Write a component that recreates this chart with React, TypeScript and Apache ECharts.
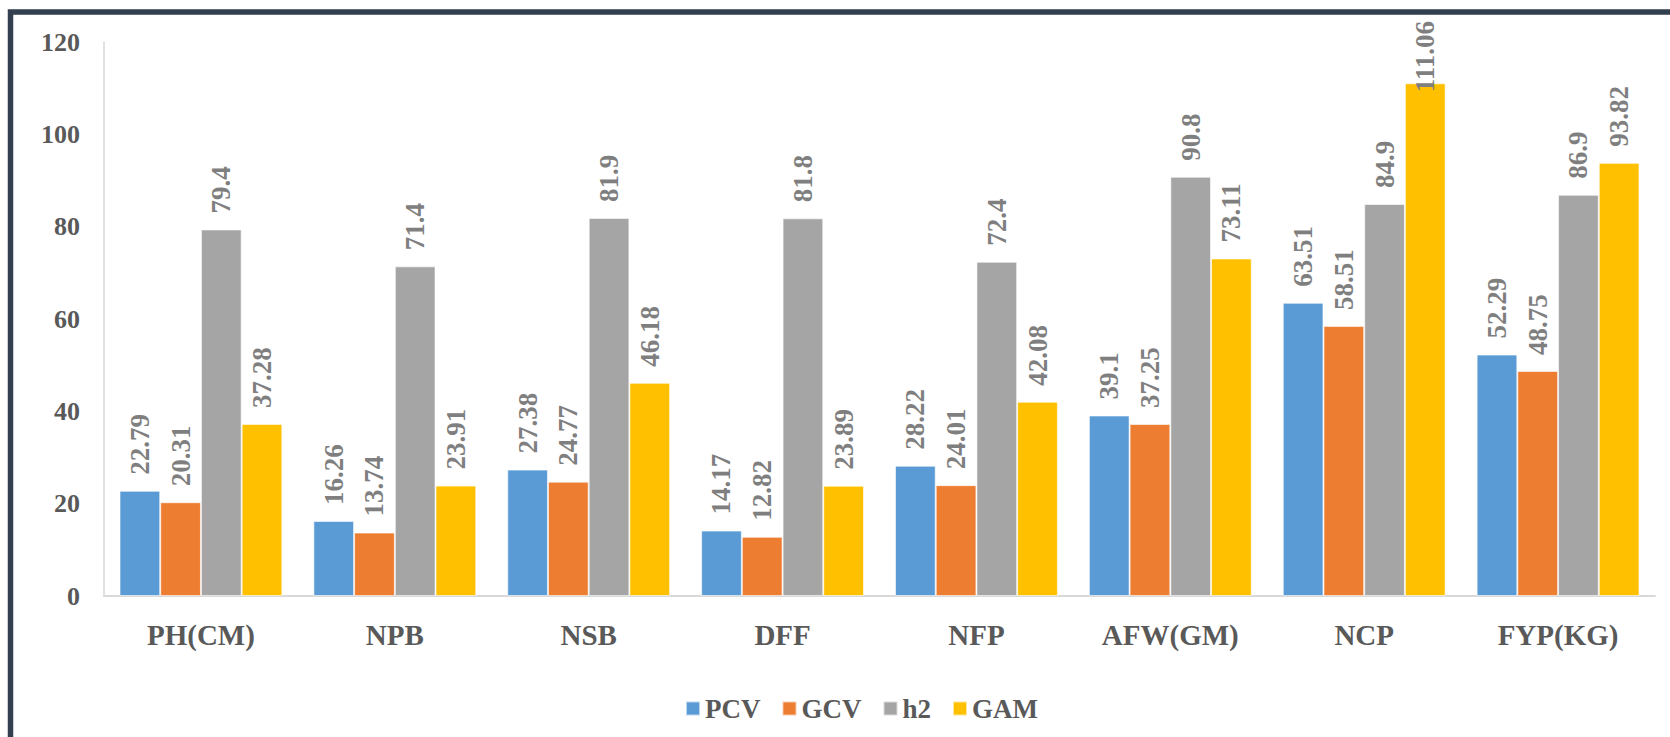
import React, { useEffect, useRef } from "react";
import * as echarts from "echarts";

const categories = ["PH(CM)", "NPB", "NSB", "DFF", "NFP", "AFW(GM)", "NCP", "FYP(KG)"];
const seriesNames = ["PCV", "GCV", "h2", "GAM"];
const pcv = [22.79, 16.26, 27.38, 14.17, 28.22, 39.1, 63.51, 52.29];
const gcv = [20.31, 13.74, 24.77, 12.82, 24.01, 37.25, 58.51, 48.75];
const h2 = [79.4, 71.4, 81.9, 81.8, 72.4, 90.8, 84.9, 86.9];
const gam = [37.28, 23.91, 46.18, 23.89, 42.08, 73.11, 111.06, 93.82];
const colors = ["#5b9bd5", "#ed7d31", "#a5a5a5", "#ffc000"];

const FONT = "'Liberation Serif', 'Times New Roman', serif";
const Y_MAX = 120;

export default function App() {
  const ref = useRef<HTMLDivElement>(null);
  useEffect(() => {
    if (!ref.current) return;
    const chart = echarts.init(ref.current, undefined, { renderer: "svg" });
    const allData = [pcv, gcv, h2, gam];
    const series = allData.map((arr, i) => ({
      name: seriesNames[i],
      type: "bar",
      barGap: "0%",
      barCategoryGap: "16%",
      itemStyle: { color: colors[i], borderColor: "rgba(255,255,255,0.6)", borderWidth: 1 },
      data: arr.map((v) => ({
        value: v,
        label: v > Y_MAX - 12 ? { offset: [-25, 0] } : undefined,
      })),
      label: {
        show: true,
        position: "top",
        rotate: 90,
        align: "left",
        verticalAlign: "middle",
        distance: 16,
        fontFamily: FONT,
        fontWeight: "bold",
        fontSize: 27,
        color: "#7f7f7f",
      },
    }));
    chart.setOption({
      animation: false,
      backgroundColor: "#ffffff",
      color: colors,
      grid: { left: 104, right: 15, top: 42, bottom: 141, containLabel: false },
      legend: {
        data: seriesNames,
        left: 680,
        top: 690,
        itemWidth: 14,
        itemHeight: 14,
        itemGap: 21,
        icon: "rect",
        textStyle: { fontFamily: FONT, fontWeight: "bold", fontSize: 27, color: "#595959" },
      },
      xAxis: {
        type: "category",
        data: categories,
        axisLine: { show: true, lineStyle: { color: "#d9d9d9", width: 2 } },
        axisTick: { show: false },
        axisLabel: {
          margin: 24,
          fontFamily: FONT,
          fontWeight: "bold",
          fontSize: 29,
          color: "#595959",
        },
      },
      yAxis: {
        type: "value",
        min: 0,
        max: Y_MAX,
        interval: 20,
        axisLine: { show: true, lineStyle: { color: "#d9d9d9", width: 1.5 } },
        axisTick: { show: false },
        splitLine: { show: false },
        axisLabel: {
          margin: 24,
          fontFamily: FONT,
          fontWeight: "bold",
          fontSize: 26,
          color: "#595959",
        },
      },
      graphic: [
        {
          type: "rect",
          shape: { x: 10.5, y: 12, width: 1800, height: 900 },
          style: { fill: "none", stroke: "#323f4f", lineWidth: 5.5 },
          silent: true,
          z: 100,
        },
      ],
      series,
    });
    return () => chart.dispose();
  }, []);
  return (
    <div
      ref={ref}
      style={{ position: "fixed", left: 0, top: 0, width: 1670, height: 737 }}
    />
  );
}
